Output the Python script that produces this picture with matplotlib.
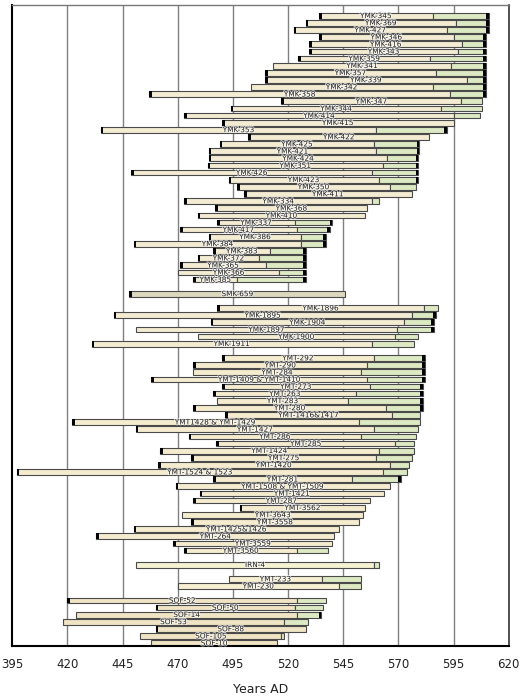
import matplotlib.pyplot as plt
import matplotlib.patheffects as pe
import numpy as np

# series in display order (top to bottom), one gap row between groups
names = ["YMK-345", "YMK-369", "YMK-427", "YMK-346", "YMK-416", "YMK-343", "YMK-359",
         "YMK-341", "YMK-357", "YMK-339", "YMK-342", "YMK-358", "YMK-347", "YMK-344",
         "YMK-414", "YMK-415", "YMK-353", "YMK-422", "YMK-425", "YMK-421", "YMK-424",
         "YMK-351", "YMK-426", "YMK-423", "YMK-350", "YMK-411", "YMK-334", "YMK-368",
         "YMK-410", "YMK-337", "YMK-417", "YMK-386", "YMK-384", "YMK-383", "YMK-372",
         "YMK-365", "YMK-366", "YMK-385",
         "SMK-659",
         "YMK-1896", "YMK-1895", "YMK-1904", "YMK-1897", "YMK-1900", "YMK-1911",
         "YMT-292", "YMT-290", "YMT-284", "YMT-1409 & YMT-1410", "YMT-273", "YMT-263",
         "YMT-283", "YMT-280", "YMT-1416&1417", "YMT1428 & YMT-1429", "YMT-1427",
         "YMT-286", "YMT-285", "YMT-1424", "YMT-275", "YMT-1420", "YMT-1524 & 1523",
         "YMT-281", "YMT-1508 & YMT-1509", "YMT-1421", "YMT-287", "YMT-3562", "YMT-3643",
         "YMT-3558", "YMT-1425&1426", "YMT-264", "YMT-3559", "YMT-3560",
         "IRN-4",
         "YMT-233", "YMT-230",
         "SOF-52", "SOF-50", "SOF-14", "SOF-53", "SOF-88", "SOF-105", "SOF-10"]
group_sizes = [38, 1, 6, 28, 1, 2, 7]

starts = [534, 528, 522.5, 534, 529.5, 529.5, 524.5, 513, 509.5, 509.5, 503, 457, 517, 494,
          473, 490, 435, 502, 489, 484, 484, 483.5, 449, 493, 497, 500, 473, 487,
          479, 488, 471, 484, 450, 486, 479, 471, 470, 477,
          448,
          488, 441, 485, 451, 479, 431,
          490, 477, 477, 458, 490, 486, 488, 477, 491.5, 422, 451, 475, 487.5, 462, 476,
          461, 397, 486, 469, 480, 477, 498, 472, 476, 450, 433, 468, 473,
          451,
          493, 470,
          420, 460, 424, 418, 460, 453, 458]
# start of sapwood (green part); nan = none
sap = [585.5, 596, 592, 595, 599, 597, 584.5, 594, 587, 601, 585.5, 593.5, 598.5, 589.5,
       595, np.nan, 560, np.nan, 559, 560, 565, 563, 558, 561, 566, np.nan, 558, np.nan,
       np.nan, 523, 524, 526, 526, 512, 507, 510, 516, 497,
       np.nan,
       581.5, 576, 572.5, 569.5, 568.5, 558,
       559, 556, 553, 556, 557, 551, 547, 564.5, 567, 552, 559, 553, 568.5, 561, 560,
       566, 563, 549, np.nan, np.nan, np.nan, np.nan, np.nan, np.nan, np.nan, np.nan,
       np.nan, 524,
       559,
       535.5, 543,
       524, 523, 524, 518, np.nan, 517, np.nan]
ends = [611, 611, 611, 609.5, 609.5, 609.5, 609.5, 609.5, 609.5, 609.5, 609.5, 609.5, 608, 608,
        607, 595, 592, 584, 579.5, 579.5, 579, 579, 579, 579, 578, 576, 561, 556,
        555, 540, 539, 537, 537, 528, 528, 528, 528, 528,
        546,
        588, 587, 586, 586, 579, 577,
        582, 582, 582, 582, 581, 581, 581, 581, 580, 580, 579, 578, 577, 577, 576,
        575, 574, 571, 566, 563.5, 557, 555, 554, 552, 543, 541, 540, 538,
        561,
        553, 553,
        537, 536, 535, 529, 528, 518, 515]
pith = [1, 1, 1, 1, 1, 1, 1, 0, 1, 1, 0, 1, 1, 1,
        1, 1, 1, 1, 1, 1, 1, 1, 1, 1, 1, 1, 1, 1,
        1, 1, 1, 1, 1, 1, 1, 1, 0, 1,
        1,
        1, 1, 1, 0, 0, 1,
        1, 1, 0, 1, 1, 1, 0, 1, 1, 1, 1, 1, 1, 1, 1,
        1, 1, 1, 1, 1, 1, 1, 0, 1, 1, 1, 1, 1,
        0,
        0, 0,
        1, 1, 0, 0, 1, 0, 0]
bark = [1, 1, 1, 1, 1, 1, 1, 1, 1, 1, 1, 1, 0, 0,
        0, 0, 1, 0, 1, 1, 1, 1, 1, 1, 0, 0, 0, 0,
        0, 1, 1, 1, 1, 1, 1, 1, 1, 1,
        0,
        0, 1, 1, 1, 0, 0,
        1, 1, 1, 1, 1, 1, 1, 1, 0, 0, 0, 0, 0, 0, 0,
        0, 0, 1, 0, 0, 0, 0, 0, 0, 0, 0, 0, 0,
        0,
        0, 0,
        0, 0, 1, 0, 0, 0, 0]
group_colors = ["#f3ebd2", "#dcd7bf", "#f3ebd2", "#f5ecd0", "#f4f2d3", "#f6efd1", "#efe4c3"]
ticks = [395, 420, 445, 470, 495, 520, 545, 570, 595, 620]

# row positions with one empty row between groups
ypos, cols = [], []
row = 0
for g, n in enumerate(group_sizes):
    for i in range(n):
        ypos.append(row)
        cols.append(group_colors[g])
        row += 1
    row += 1

fig = plt.figure(figsize=(5.28, 7.0), dpi=100)
ax = fig.add_axes([0.0233, 0.0771, 0.9401, 0.9162])

h = 0.8
green = "#dde9c3"
edge = "#4a4a4a"
for i, nm in enumerate(names):
    y = ypos[i]
    s, g, e = starts[i], sap[i], ends[i]
    cream_end = e if np.isnan(g) else g
    ax.barh(y, cream_end - s, left=s, height=h, color=cols[i], edgecolor=edge, lw=0.8, zorder=2)
    if not np.isnan(g):
        ax.barh(y, e - g, left=g, height=h, color=green, edgecolor=edge, lw=0.8, zorder=2)
    if pith[i]:
        ax.barh(y, 1.2, left=s, height=h, color="black", lw=0, zorder=3)
    if bark[i]:
        ax.barh(y, 1.2, left=e - 1.2, height=h, color="black", lw=0, zorder=3)
    ax.text((s + cream_end) / 2, y + 0.05, nm, ha="center", va="center", fontsize=5.3,
            color="#2a2a2a", zorder=4,
            path_effects=[pe.withStroke(linewidth=1.2, foreground="white", alpha=0.7)])

for t in ticks[1:-1]:
    ax.axvline(t, color="#808080", lw=1, zorder=1)

ax.set_xlim(395, 620)
ax.set_ylim(88.4, -1.55)
ax.set_xticks(ticks)
ax.set_yticks([])
ax.tick_params(axis="x", length=0, pad=8.5, labelsize=8.5, labelcolor="#222222")
ax.set_xlabel("Years AD", fontsize=9, color="#222222", labelpad=9)
ax.spines["left"].set_linewidth(1.5)
ax.spines["bottom"].set_linewidth(1.5)
ax.spines["top"].set_color("#777777")
ax.spines["top"].set_linewidth(1)
ax.spines["right"].set_color("#333333")
ax.spines["right"].set_linewidth(1.2)

fig.savefig("out.png", dpi=100)
